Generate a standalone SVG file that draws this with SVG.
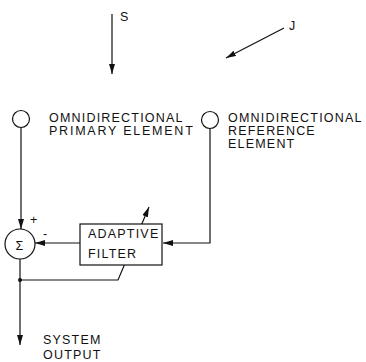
<svg xmlns="http://www.w3.org/2000/svg" width="366" height="362" viewBox="0 0 366 362">
<defs>
<marker id="ah" viewBox="0 0 10 6" refX="10" refY="3" markerWidth="10" markerHeight="6" markerUnits="userSpaceOnUse" orient="auto">
<path d="M0,0 L10,3 L0,6 Z" fill="#111"/>
</marker>
</defs>
<style>
.ln{fill:none;stroke:#111;stroke-width:1.2}
.nd{fill:#fff;stroke:#111;stroke-width:1.2}
.t{font-family:"Liberation Sans",Arial,sans-serif;font-size:12.5px;letter-spacing:1.2px;fill:#111}
</style>
<rect width="366" height="362" fill="#fff"/>
<g id="connectors">
<line class="ln" x1="112" y1="14" x2="112" y2="74" marker-end="url(#ah)"/>
<line class="ln" x1="284" y1="28" x2="226" y2="58" marker-end="url(#ah)"/>
<line class="ln" x1="21" y1="128" x2="21" y2="229" marker-end="url(#ah)"/>
<polyline class="ln" points="210,129 210,243 163,243" marker-end="url(#ah)"/>
<line class="ln" x1="80" y1="243" x2="35" y2="243" marker-end="url(#ah)"/>
<line class="ln" x1="20" y1="259" x2="20" y2="345" marker-end="url(#ah)"/>
<polyline class="ln" points="20,280 118,280 149,207" marker-end="url(#ah)"/>
<circle cx="20" cy="280" r="2" fill="#111"/>
</g>
<g id="signal-s"><text class="t" x="120" y="21">S</text></g>
<g id="jammer-j"><text class="t" x="289" y="30">J</text></g>
<g id="primary-element">
<circle class="nd" cx="21" cy="119" r="8.5"/>
<text class="t" x="49" y="122">OMNIDIRECTIONAL</text>
<text class="t" x="49" y="135" textLength="145" lengthAdjust="spacing">PRIMARY ELEMENT</text>
</g>
<g id="reference-element">
<circle class="nd" cx="210" cy="120" r="8.5"/>
<text class="t" x="228" y="122">OMNIDIRECTIONAL</text>
<text class="t" x="228" y="135">REFERENCE</text>
<text class="t" x="228" y="148">ELEMENT</text>
</g>
<g id="summer">
<circle class="nd" cx="20" cy="244" r="15"/>
<text class="t" x="20" y="250" text-anchor="middle" font-size="16" letter-spacing="0">Σ</text>
<text class="t" x="30" y="224">+</text>
<text class="t" x="43" y="238">-</text>
</g>
<g id="adaptive-filter">
<rect class="nd" x="80" y="224" width="82" height="41"/>
<text class="t" x="88" y="238">ADAPTIVE</text>
<text class="t" x="88" y="258">FILTER</text>
</g>
<g id="system-output">
<text class="t" x="43" y="344">SYSTEM</text>
<text class="t" x="43" y="359">OUTPUT</text>
</g>
</svg>
